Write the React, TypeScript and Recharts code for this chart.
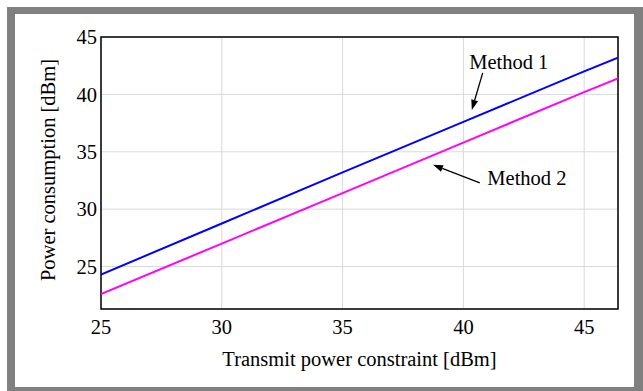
import {
  CartesianGrid,
  Line,
  LineChart,
  ReferenceArea,
  ReferenceDot,
  ReferenceLine,
  XAxis,
  YAxis,
} from 'recharts';

const constraintDbm = [25, 30, 35, 40, 45, 46.4];
const method1Dbm = [24.3, 28.75, 33.2, 37.6, 42.0, 43.2];
const method2Dbm = [22.6, 27.0, 31.4, 35.8, 40.2, 41.4];

const xTicks = [25, 30, 35, 40, 45];
const yTicks = [25, 30, 35, 40, 45];

// annotation text positions and arrows, in data units
const annotationLabels = [
  { name: 'Method 1', x: 41.88, y: 42.8 },
  { name: 'Method 2', x: 42.63, y: 32.73 },
];
const annotationArrows = [
  { from: { x: 40.8, y: 41.87 }, to: { x: 40.35, y: 38.65 } },
  { from: { x: 40.68, y: 32.29 }, to: { x: 38.74, y: 33.86 } },
];

const data = constraintDbm.map((x, i) => ({
  x,
  m1: method1Dbm[i],
  m2: method2Dbm[i],
}));

const FONT = '"Liberation Serif", "Times New Roman", serif';
const FS = 20.5;

const arrowShape = (p: any) => {
  const { x1, y1, x2, y2 } = p;
  const ang = Math.atan2(y2 - y1, x2 - x1);
  const len = 10;
  const half = 3.5;
  const bx = x2 - len * Math.cos(ang);
  const by = y2 - len * Math.sin(ang);
  const px = -Math.sin(ang) * half;
  const py = Math.cos(ang) * half;
  return (
    <g>
      <line x1={x1} y1={y1} x2={bx} y2={by} stroke="#000" strokeWidth={1.3} />
      <polygon points={`${x2},${y2} ${bx + px},${by + py} ${bx - px},${by - py}`} fill="#000" />
    </g>
  );
};

export default function App() {
  return (
    <div style={{ position: 'absolute', left: 0, top: 0, width: 643, height: 391, background: '#fff' }}>
      <div style={{ position: 'absolute', left: 7, top: 7, width: 636, height: 384, background: '#808080' }} />
      <div style={{ position: 'absolute', left: 15, top: 14, width: 619, height: 373, background: '#fff' }} />
      <div style={{ position: 'absolute', left: 0, top: 0 }}>
        <LineChart width={643} height={391} data={data} margin={{ top: 37, right: 25, left: 0, bottom: 0 }}>
          <CartesianGrid stroke="#d9d9d9" strokeWidth={1} />
          <XAxis
            dataKey="x"
            type="number"
            domain={[25, 46.4]}
            ticks={xTicks}
            allowDataOverflow
            height={82}
            tickSize={0}
            tickMargin={10}
            axisLine={false}
            tick={{ fontSize: FS, fill: '#000', fontFamily: FONT }}
            label={{
              content: (props: any) => {
                const vb = props.viewBox;
                return (
                  <text
                    x={vb.x + vb.width / 2}
                    y={vb.y + 50}
                    textAnchor="middle"
                    dominantBaseline="central"
                    fontSize={FS}
                    fontFamily={FONT}
                    fill="#000"
                  >
                    Transmit power constraint [dBm]
                  </text>
                );
              },
            }}
          />
          <YAxis
            type="number"
            domain={[21.3, 45]}
            ticks={yTicks}
            allowDataOverflow
            width={101}
            tickSize={0}
            tickMargin={4}
            axisLine={false}
            tick={{ fontSize: FS, fill: '#000', fontFamily: FONT }}
            label={{
              content: (props: any) => {
                const vb = props.viewBox;
                const cx = 47.5;
                const cy = vb.y + vb.height / 2 - 3;
                return (
                  <text
                    x={cx}
                    y={cy}
                    transform={`rotate(-90 ${cx} ${cy})`}
                    textAnchor="middle"
                    dominantBaseline="central"
                    fontSize={FS}
                    fontFamily={FONT}
                    fill="#000"
                  >
                    Power consumption [dBm]
                  </text>
                );
              },
            }}
          />
          <Line type="linear" dataKey="m1" stroke="#0000ff" strokeWidth={2} dot={false} isAnimationActive={false} />
          <Line type="linear" dataKey="m2" stroke="#ff00ff" strokeWidth={2} dot={false} isAnimationActive={false} />
          {annotationArrows.map((a, i) => (
            <ReferenceLine key={`arr${i}`} segment={[a.from, a.to]} shape={arrowShape} ifOverflow="visible" />
          ))}
          {annotationLabels.map((l) => (
            <ReferenceDot
              key={l.name}
              x={l.x}
              y={l.y}
              ifOverflow="visible"
              shape={(p: any) => (
                <text
                  x={p.cx}
                  y={p.cy}
                  textAnchor="middle"
                  dominantBaseline="central"
                  fontSize={FS}
                  fontFamily={FONT}
                  fill="#000"
                >
                  {l.name}
                </text>
              )}
            />
          ))}
          <ReferenceArea x1={25} x2={46.4} y1={21.3} y2={45} fill="none" stroke="#000" strokeWidth={1.5} ifOverflow="visible" />
        </LineChart>
      </div>
    </div>
  );
}
